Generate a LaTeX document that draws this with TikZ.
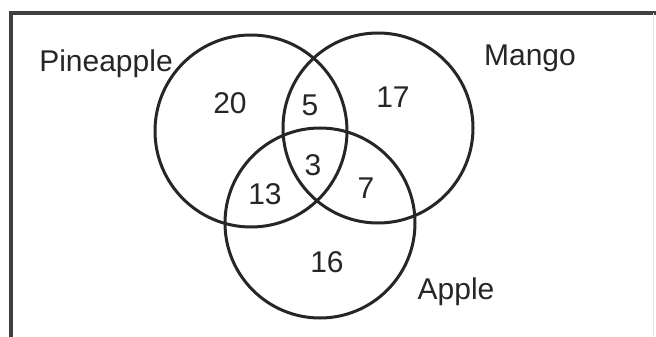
\documentclass[tikz,border=0pt]{standalone}
\usepackage{fontspec}
\setmainfont{Liberation Sans}
\begin{document}
\begin{tikzpicture}[x=1pt,y=-1pt,
  setc/.style={draw=black!85,line width=3pt,circle,minimum size=#1,inner sep=0pt},
  lab/.style={font=\fontsize{30}{32}\selectfont,text=black!85,inner sep=0pt},
  frame/.style={draw=black!75,line width=3.5pt}]
\useasboundingbox (0,0) rectangle (656,337);
\coordinate (tl) at (11,13);
\coordinate (tr) at (656,13);
\coordinate (bl) at (11,337);
\draw[frame] (tr) -- (tl) -- (bl);
\coordinate (rt) at (653,13);
\coordinate (rb) at (653,337);
\draw[black!10,line width=1pt] (rt) -- (rb);
\node[setc=192pt] (P) at (251,131) {};
\node[setc=190pt] (M) at (378,128) {};
\node[setc=190pt] (A) at (320,223) {};
\node[lab] (lP) at (106,64) {Pineapple};
\node[lab] (lM) at (530,58) {Mango};
\node[lab] (lA) at (456,292) {Apple};
\node[lab] (n20) at (230,103) {20};
\node[lab] (n5) at (310,105) {5};
\node[lab] (n17) at (393,97) {17};
\node[lab] (n3) at (313,165) {3};
\node[lab] (n13) at (265,194) {13};
\node[lab] (n7) at (366,188) {7};
\node[lab] (n16) at (327,262) {16};
\end{tikzpicture}
\end{document}
